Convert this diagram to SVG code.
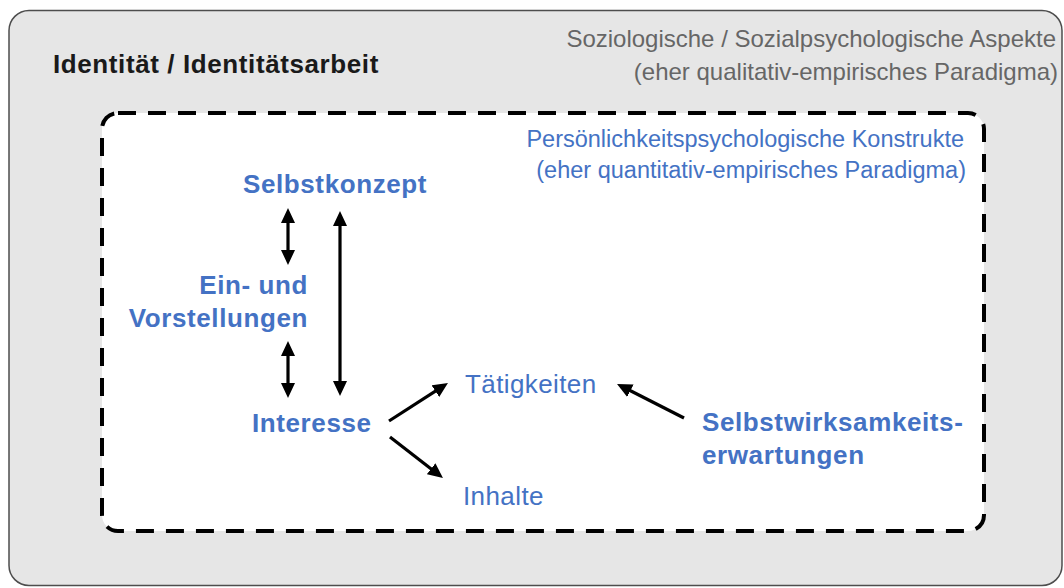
<svg xmlns="http://www.w3.org/2000/svg" width="1064" height="588" viewBox="0 0 1064 588">
  <style>
    .bold { font-family: "Liberation Sans", Arial, sans-serif; font-weight: bold; font-size: 26px; letter-spacing: 0.6px; }
    .reg { font-family: "Liberation Sans", Arial, sans-serif; font-weight: normal; }
    .blue { fill: #4472c4; }
    .gray { fill: #666666; }
    .arrow { stroke: #000; stroke-width: 3.2; fill: none; }
  </style>
  <defs>
    <marker id="head" viewBox="0 0 15 14" markerUnits="userSpaceOnUse" markerWidth="15" markerHeight="14" refX="1" refY="7" orient="auto-start-reverse">
      <path d="M0,0 L15,7 L0,14 z" fill="#000"/>
    </marker>
  </defs>

  <!-- outer frame: sociological aspects -->
  <g id="identitaet">
    <rect x="9" y="10.5" width="1053" height="575" rx="20" fill="#e6e6e6" stroke="#4d4d4d" stroke-width="1.5"/>
    <text class="bold" x="53" y="73" fill="#1a1a1a">Identität / Identitätsarbeit</text>
    <text class="reg gray" x="1056" y="47" font-size="24" text-anchor="end">Soziologische / Sozialpsychologische Aspekte</text>
    <text class="reg gray" x="1058" y="80" font-size="24" text-anchor="end">(eher qualitativ-empirisches Paradigma)</text>
  </g>

  <!-- inner frame: personality constructs -->
  <g id="konstrukte">
    <rect x="102" y="113" width="882" height="418" rx="16" fill="#ffffff" stroke="#000" stroke-width="4" stroke-dasharray="18 12"/>
    <text class="reg blue" x="964" y="147" font-size="23.5" text-anchor="end">Persönlichkeitspsychologische Konstrukte</text>
    <text class="reg blue" x="966" y="178" font-size="23.5" text-anchor="end">(eher quantitativ-empirisches Paradigma)</text>
  </g>

  <g id="selbstkonzept">
    <text class="bold blue" x="243" y="193">Selbstkonzept</text>
  </g>
  <g id="vorstellungen">
    <text class="bold blue" x="308" y="294" text-anchor="end">Ein- und</text>
    <text class="bold blue" x="308" y="327" text-anchor="end">Vorstellungen</text>
  </g>
  <g id="interesse">
    <text class="bold blue" x="252" y="432">Interesse</text>
  </g>
  <g id="taetigkeiten">
    <text class="reg blue" x="465" y="393" font-size="26" letter-spacing="0.4">Tätigkeiten</text>
  </g>
  <g id="inhalte">
    <text class="reg blue" x="463" y="505" font-size="26" letter-spacing="0.4">Inhalte</text>
  </g>
  <g id="selbstwirksamkeit">
    <text class="bold blue" x="702" y="431">Selbstwirksamkeits-</text>
    <text class="bold blue" x="702" y="464">erwartungen</text>
  </g>

  <!-- connectors -->
  <g id="connectors">
    <line class="arrow" x1="288" y1="222" x2="288" y2="251" marker-start="url(#head)" marker-end="url(#head)"/>
    <line class="arrow" x1="288" y1="355" x2="288" y2="384" marker-start="url(#head)" marker-end="url(#head)"/>
    <line class="arrow" x1="340" y1="225" x2="340" y2="382" marker-start="url(#head)" marker-end="url(#head)"/>
    <line class="arrow" x1="389" y1="421" x2="436.2" y2="390.6" marker-end="url(#head)"/>
    <line class="arrow" x1="390" y1="437" x2="431.9" y2="469.4" marker-end="url(#head)"/>
    <line class="arrow" x1="684" y1="418" x2="629.5" y2="390.3" marker-end="url(#head)"/>
  </g>
</svg>
